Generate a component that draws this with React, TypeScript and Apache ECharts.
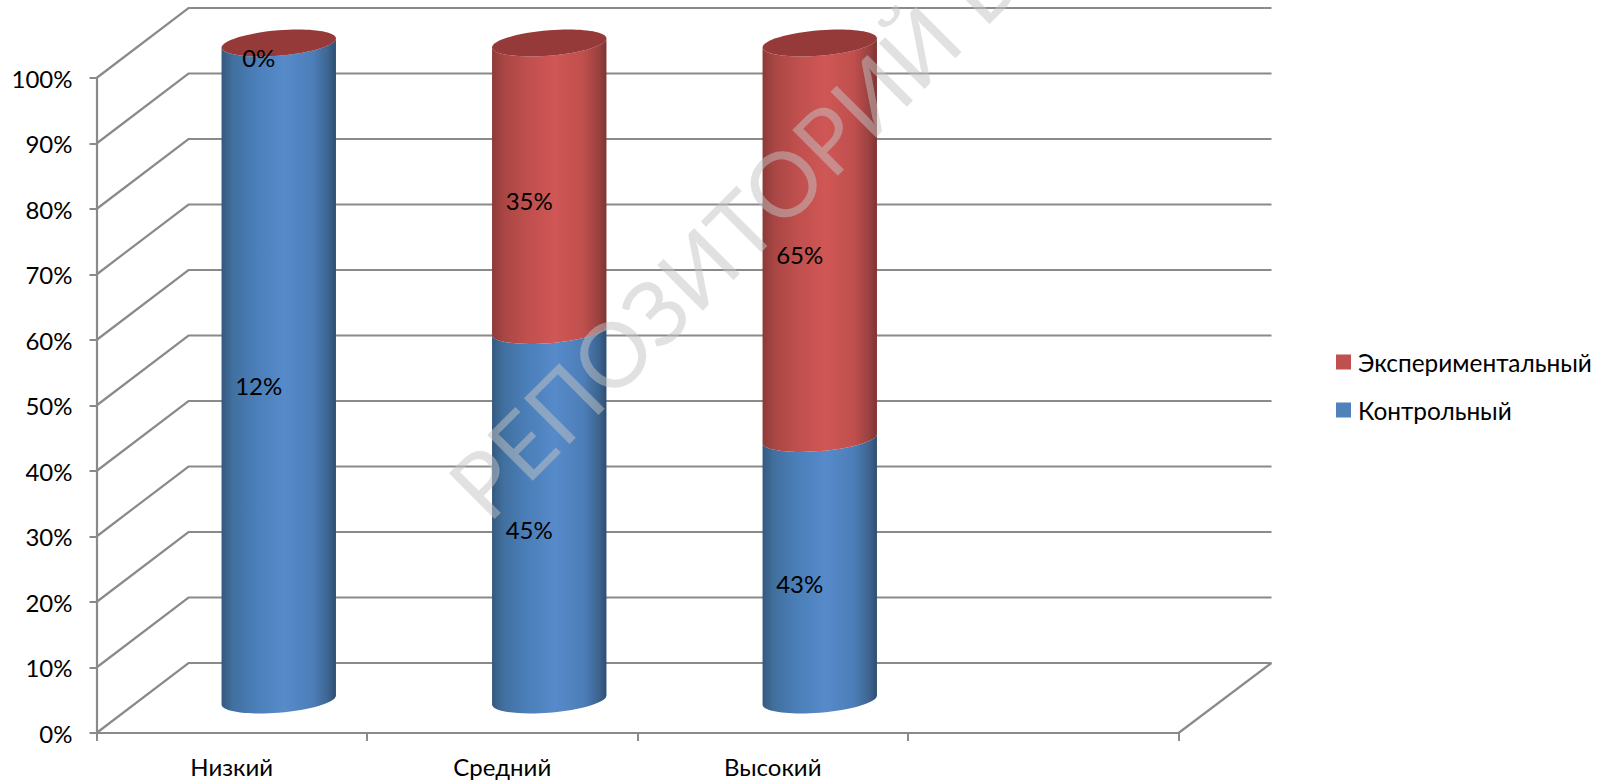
import React, { useEffect, useRef } from "react";
import * as echarts from "echarts";

const categories = ["Низкий", "Средний", "Высокий", ""];
const controlName = "Контрольный";
const experimentalName = "Экспериментальный";
const controlValues = [12, 45, 43];
const experimentalValues = [0, 35, 65];
const gridTicks = [0, 10, 20, 30, 40, 50, 60, 70, 80, 90, 100];
const watermarkText = "РЕПОЗИТОРИЙ БГПУ";

const FONT = "Lato";
const FONT_SIZE = 24;
const DEPTH_X = 92;
const DEPTH_Y = 70;
const LINE = "#8a8a8a";

const blueStops = [
  { offset: 0, color: "#35597f" },
  { offset: 0.1, color: "#41709f" },
  { offset: 0.3, color: "#4b7fb9" },
  { offset: 0.55, color: "#568aca" },
  { offset: 0.8, color: "#4c7eb8" },
  { offset: 0.93, color: "#3d6591" },
  { offset: 1, color: "#2f4e72" },
];
const redStops = [
  { offset: 0, color: "#8b3a38" },
  { offset: 0.1, color: "#a84644" },
  { offset: 0.3, color: "#bf4f4d" },
  { offset: 0.55, color: "#cf5755" },
  { offset: 0.8, color: "#bf4f4d" },
  { offset: 0.93, color: "#9a4240" },
  { offset: 1, color: "#7f3432" },
];

const total = (i: number) => controlValues[i] + experimentalValues[i];
const share = (v: number, i: number) => (v / total(i)) * 100;
const controlData = controlValues.map((v, i) => [i, 0, share(v, i), v]);
const experimentalData = experimentalValues.map((v, i) => [
  i,
  share(controlValues[i], i),
  100,
  v,
]);

// half of a tilted ellipse as two cubic curves, through centre + (0, vy)
const K = 0.5523;
function halfEllipse(cx: number, cy: number, ux: number, uy: number, vy: number, dir: 1 | -1) {
  // dir = 1 runs from centre - U to centre + U; dir = -1 runs the other way
  const ex = dir * ux;
  const ey = dir * uy;
  const c = (x: number, y: number) => `${cx + x} ${cy + y}`;
  return (
    `C${c(-ex, -ey + K * vy)} ${c(-K * ex, vy - K * ey)} ${c(0, vy)} ` +
    `C${c(K * ex, vy + K * ey)} ${c(ex, ey + K * vy)} ${c(ex, ey)} `
  );
}

function cylinderSeries(name: string, data: number[][], flat: string, stops: any[], hasTop: boolean) {
  return {
    type: "custom",
    name,
    data,
    z: hasTop ? 4 : 3,
    clip: false,
    itemStyle: { color: flat },
    encode: { x: 0, y: [1, 2] },
    renderItem: (_p: any, api: any) => {
      const i = api.value(0);
      const v0 = api.value(1);
      const v1 = api.value(2);
      const base = api.coord([i, v0]);
      const head = api.coord([i, v1]);
      const band = api.size([1, 0])[0];
      const cx = base[0] + DEPTH_X / 2 + 1;
      const yb = base[1] - 33 - 0.02 * v0;
      const yt = head[1] - 33 - 0.02 * v1;
      const hw = band * 0.2115;
      const dy = 4.5;
      const k = 12.7;
      const ux = hw;
      const uy = -dy;
      const d =
        `M${cx - ux} ${yt - uy} L${cx - ux} ${yb - uy} ` +
        halfEllipse(cx, yb, ux, uy, k, 1) +
        `L${cx + ux} ${yt + uy} ` +
        halfEllipse(cx, yt, ux, uy, k, -1) +
        "Z";
      const children: any[] = [
        {
          type: "path",
          shape: { pathData: d },
          style: { fill: new echarts.graphic.LinearGradient(0, 0, 1, 0, stops) },
        },
      ];
      if (hasTop) {
        children.push({
          type: "path",
          shape: {
            pathData:
              `M${cx - ux} ${yt - uy} ` +
              halfEllipse(cx, yt, ux, uy, -k, 1) +
              halfEllipse(cx, yt, ux, uy, k, -1) +
              "Z",
          },
          style: { fill: "#953a38" },
        });
      }
      children.push({
        type: "text",
        z2: 20,
        style: {
          text: `${api.value(3)}%`,
          x: cx - 20,
          y: (yb + yt) / 2 + 14,
          align: "center",
          verticalAlign: "middle",
          font: `${FONT_SIZE}px ${FONT}`,
          fill: "#000",
        },
      });
      return { type: "group", children };
    },
  };
}

const wallSeries = {
  type: "custom",
  z: 1,
  silent: true,
  clip: false,
  data: gridTicks.map((t) => [0, t]),
  encode: { y: 1 },
  renderItem: (params: any, api: any) => {
    const cs = params.coordSys;
    const y = api.coord([0, api.value(1)])[1];
    const st = { stroke: LINE, lineWidth: 2.2, fill: "none" };
    const children: any[] = [
      {
        type: "polyline",
        shape: {
          points: [
            [cs.x, y],
            [cs.x + DEPTH_X, y - DEPTH_Y],
            [cs.x + cs.width + DEPTH_X + 1, y - DEPTH_Y],
          ],
        },
        style: st,
      },
    ];
    if (api.value(1) === 0) {
      children.push({
        type: "line",
        shape: {
          x1: cs.x + cs.width,
          y1: y,
          x2: cs.x + cs.width + DEPTH_X + 1,
          y2: y - DEPTH_Y,
        },
        style: st,
      });
    }
    return { type: "group", children };
  },
};

export default function App() {
  const ref = useRef<HTMLDivElement>(null);
  useEffect(() => {
    const chart = echarts.init(ref.current!, undefined, { renderer: "svg" });
    chart.setOption({
      animation: false,
      backgroundColor: "#fff",
      grid: { left: 96.5, top: 78, width: 1082, height: 655, containLabel: false },
      xAxis: {
        type: "category",
        data: categories,
        axisLine: { lineStyle: { color: LINE, width: 2.2 } },
        axisTick: { show: true, length: 8, lineStyle: { color: LINE, width: 2 } },
        axisLabel: { interval: 0, margin: 21, fontFamily: FONT, fontSize: FONT_SIZE, lineHeight: 24, color: "#000" },
        splitLine: { show: false },
      },
      yAxis: {
        type: "value",
        min: 0,
        max: 100,
        interval: 10,
        axisLine: { show: true, lineStyle: { color: LINE, width: 2.2 } },
        axisTick: { show: true, length: 7, lineStyle: { color: LINE, width: 2 } },
        axisLabel: { margin: 24, formatter: "{value}%", fontFamily: FONT, fontSize: FONT_SIZE, color: "#000" },
        splitLine: { show: false },
      },
      legend: {
        orient: "vertical",
        left: 1336,
        top: 350,
        padding: 0,
        icon: "rect",
        itemWidth: 15,
        itemHeight: 15,
        itemGap: 24,
        selectedMode: false,
        data: [experimentalName, controlName],
        textStyle: { fontFamily: FONT, fontSize: 24.4, color: "#000", padding: [0, 0, 0, 2] },
      },
      series: [
        wallSeries,
        cylinderSeries(controlName, controlData, "#4f81bd", blueStops, false),
        cylinderSeries(experimentalName, experimentalData, "#c0504d", redStops, true),
      ],
      graphic: [
        {
          type: "text",
          z: 100,
          silent: true,
          x: 464,
          y: 500,
          rotation: Math.PI / 4,
          style: {
            text: watermarkText,
            font: `90px ${FONT}`,
            fill: "rgba(195,195,195,0.5)",
            align: "left",
            verticalAlign: "middle",
          },
        },
      ],
    });
    return () => chart.dispose();
  }, []);
  return (
    <div
      ref={ref}
      style={{ position: "fixed", left: 0, top: 0, width: 1604, height: 781 }}
    />
  );
}
